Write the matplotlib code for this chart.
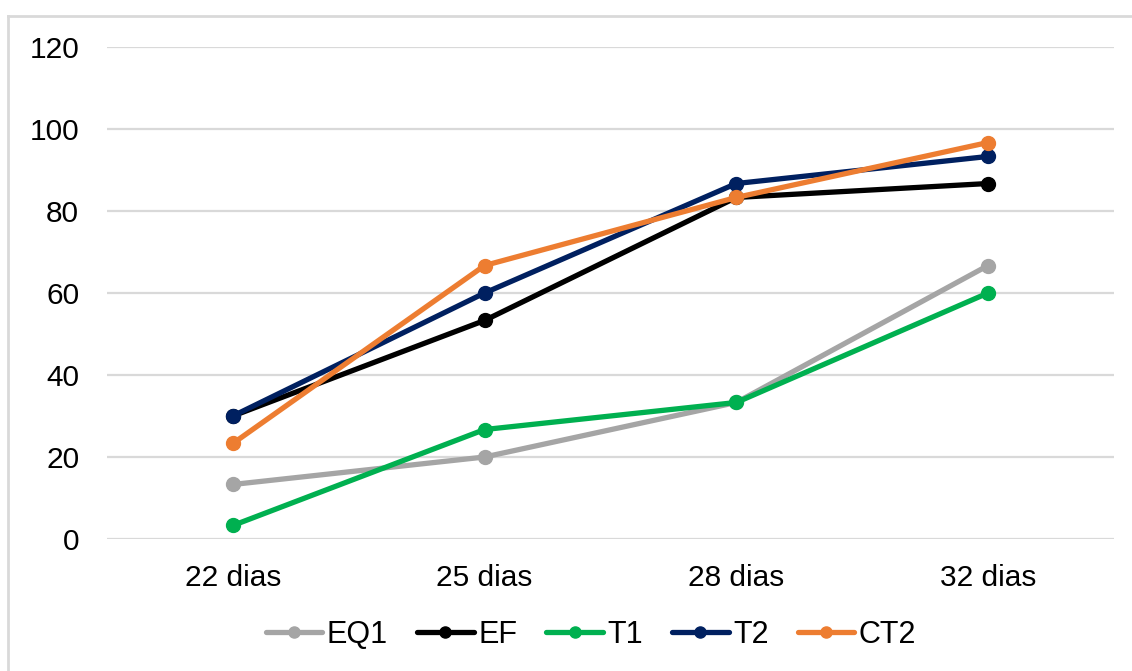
import matplotlib
matplotlib.use('Agg')
import matplotlib.pyplot as plt
from matplotlib.lines import Line2D

plt.rcParams['font.family'] = ['Liberation Sans', 'DejaVu Sans']

# Data
categories = ['22 dias', '25 dias', '28 dias', '32 dias']
eq1 = [13.3, 20.0, 33.3, 66.7]
ef = [30.0, 53.3, 83.3, 86.7]
t1 = [3.3, 26.7, 33.3, 60.0]
t2 = [30.0, 60.0, 86.7, 93.3]
ct2 = [23.3, 66.7, 83.3, 96.7]

series = [
    ('EQ1', eq1, '#a5a5a5'),
    ('EF', ef, '#000000'),
    ('T1', t1, '#00b050'),
    ('T2', t2, '#002060'),
    ('CT2', ct2, '#ed7d31'),
]

fig = plt.figure(figsize=(11.32, 6.71), dpi=100)
ax = fig.add_axes([0.0945, 0.1967, 0.8895, 0.7333])

x = list(range(len(categories)))
for name, vals, col in series:
    ax.plot(x, vals, '-o', color=col, linewidth=3.8, markersize=10,
            label=name, solid_capstyle='round', zorder=3)

ax.set_xlim(-0.5, len(categories) - 0.5)
ax.set_ylim(0, 120)
ax.set_yticks(range(0, 121, 20))
ax.set_xticks(x)
ax.set_xticklabels(categories)
ax.tick_params(axis='both', length=0, labelsize=21.5, colors='#000000')
ax.tick_params(axis='y', pad=20)
ax.tick_params(axis='x', pad=18)
ax.grid(True, axis='y', color='#d9d9d9', linewidth=1.6, zorder=0)
for s in ax.spines.values():
    s.set_visible(False)

fig.legend(*ax.get_legend_handles_labels(), loc='center',
           bbox_to_anchor=(591 / 1132, 36 / 671), ncol=5,
           frameon=False, fontsize=22, handlelength=1.85, handletextpad=0.15,
           columnspacing=0.95, markerscale=0.8)

# outer chart border (left and top edges visible)
fig.add_artist(Line2D([8 / 1132, 8 / 1132], [0, 1 - 16 / 671],
                      color='#d9d9d9', linewidth=2, transform=fig.transFigure))
fig.add_artist(Line2D([8 / 1132, 1], [1 - 16 / 671, 1 - 16 / 671],
                      color='#d9d9d9', linewidth=2, transform=fig.transFigure))

fig.savefig('out.png', dpi=100)
